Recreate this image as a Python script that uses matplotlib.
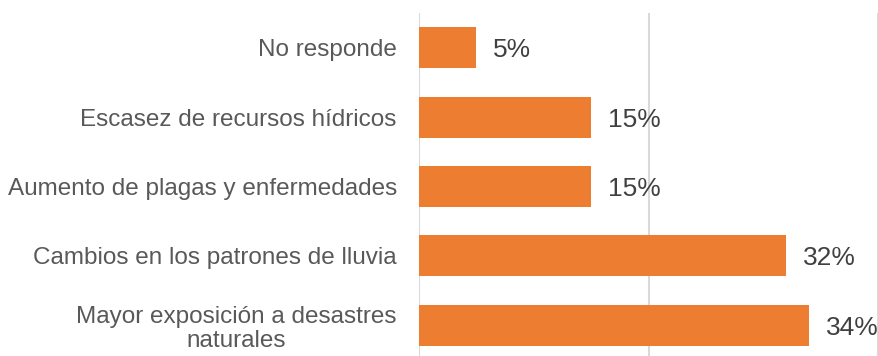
import matplotlib
matplotlib.use('Agg')
import matplotlib.pyplot as plt

plt.rcParams['font.family'] = ['Liberation Sans', 'DejaVu Sans']

categories = [
    'No responde',
    'Escasez de recursos hídricos',
    'Aumento de plagas y enfermedades',
    'Cambios en los patrones de lluvia',
    'Mayor exposición a desastres\nnaturales',
]
values = [5, 15, 15, 32, 34]

W, H = 879, 356
fig = plt.figure(figsize=(W / 100, H / 100), dpi=100)
ax = fig.add_axes([419 / W, -4 / H, (878 - 419) / W, (356 - 13 + 4) / H])

pos = list(range(len(categories)))
ax.barh(pos, values, height=0.59, color='#ED7D31', zorder=3)
ax.set_ylim(len(categories) - 0.5, -0.5)
ax.set_xlim(0, 40)

ax.set_xticks([0, 20, 40])
ax.xaxis.grid(True, color='#d9d9d9', linewidth=1.5, zorder=0)
ax.tick_params(axis='both', length=0)
ax.set_xticklabels([])
ax.set_yticks(pos)
ax.set_yticklabels(categories, fontsize=17.5, color='#595959',
                   multialignment='center', linespacing=1.15)
ax.tick_params(axis='y', pad=16)
for s in ax.spines.values():
    s.set_visible(False)

for p, v in zip(pos, values):
    ax.annotate(f'{v}%', (v, p), xytext=(17, -2.5), textcoords='offset pixels',
                ha='left', va='center', fontsize=19, color='#404040')

fig.savefig('out.png', dpi=100)
